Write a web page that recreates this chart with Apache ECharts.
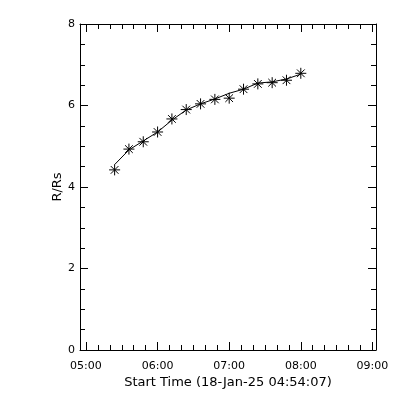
<!DOCTYPE html>
<html>
<head>
<meta charset="utf-8">
<script src="https://cdn.jsdelivr.net/npm/echarts@6/dist/echarts.min.js"></script>
<style>html,body{margin:0;padding:0;background:#fff;}#chart{width:400px;height:400px;}</style>
</head>
<body>
<div id="chart"></div>
<script>
// ---- data ----
const times = ['05:24','05:36','05:48','06:00','06:12','06:24','06:36','06:48','07:00','07:12','07:24','07:36','07:48','08:00'];
const radius = [4.42,4.93,5.11,5.35,5.67,5.90,6.04,6.15,6.18,6.40,6.53,6.56,6.62,6.79];
const fitRadius = [4.55,4.91,5.13,5.35,5.64,5.89,6.04,6.16,6.30,6.40,6.55,6.58,6.65,6.77];
const hourLabels = ['05:00','06:00','07:00','08:00','09:00'];
const xStart = '04:55';
const xEnd = '09:03';
const yTicks = [0,2,4,6,8];
const xTitle = 'Start Time (18-Jan-25 04:54:07)';
const yTitle = 'R/Rs';

function toMin(s){ const p = s.split(':'); return (+p[0])*60 + (+p[1]); }
function fmt(v){ const h = Math.floor(v/60), m = Math.round(v - h*60); return String(h).padStart(2,'0') + ':' + String(m).padStart(2,'0'); }

const hourVals = hourLabels.map(toMin);
const minorVals = [];
hourVals.forEach(h => { for (let k = 1; k < 6; k++) { const v = h + k*10; if (v < toMin(xEnd)) minorVals.push(v); } });

const FONT = 'DejaVu Sans';
const black = '#000';
const gridBox = {left: 80, right: 24, top: 24, bottom: 50, show: false};

function xAx(grid, pos, ticks, len, withLine, withLabel) {
  const a = {
    gridIndex: grid, type: 'value', position: pos,
    min: toMin(xStart), max: toMin(xEnd),
    axisLine: {show: withLine, onZero: false, lineStyle: {color: black, width: 1}},
    axisTick: {show: true, inside: true, length: len, customValues: ticks, lineStyle: {color: black, width: 1}},
    axisLabel: withLabel ? {show: true, customValues: ticks, formatter: v => fmt(v), color: black, fontFamily: FONT, fontSize: 11, margin: 11} : {show: false},
    splitLine: {show: false}
  };
  if (withLabel) {
    a.name = xTitle; a.nameLocation = 'middle'; a.nameGap = 26; a.nameMoveOverlap = false;
    a.nameTextStyle = {color: black, fontFamily: FONT, fontSize: 13};
  }
  return a;
}

function yAx(grid, pos, show, withLabel) {
  const a = {
    gridIndex: grid, type: 'value', position: pos, show: show,
    min: yTicks[0], max: yTicks[yTicks.length-1], interval: yTicks[1]-yTicks[0],
    axisLine: {show: true, onZero: false, lineStyle: {color: black, width: 1}},
    axisTick: {show: true, inside: true, length: 8, lineStyle: {color: black, width: 1}},
    minorTick: {show: true, splitNumber: 4, length: 5, lineStyle: {color: black, width: 1}},
    axisLabel: withLabel ? {show: true, color: black, fontFamily: FONT, fontSize: 11, margin: 5} : {show: false},
    splitLine: {show: false}
  };
  if (withLabel) {
    a.name = yTitle; a.nameLocation = 'middle'; a.nameGap = 16; a.nameMoveOverlap = false;
    a.nameTextStyle = {color: black, fontFamily: FONT, fontSize: 13};
  }
  return a;
}

const asterisk = 'path://M0,5L10,5M5,0L5,10M1.5,1.5L8.5,8.5M8.5,1.5L1.5,8.5';

const option = {
  backgroundColor: '#fff',
  animation: false,
  grid: [Object.assign({}, gridBox), Object.assign({}, gridBox)],
  xAxis: [
    xAx(0, 'bottom', hourVals, 8, true, true),
    xAx(0, 'top', hourVals, 8, true, false),
    xAx(1, 'bottom', minorVals, 5, false, false),
    xAx(1, 'top', minorVals, 5, false, false)
  ],
  yAxis: [
    yAx(0, 'left', true, true),
    yAx(0, 'right', true, false),
    yAx(1, 'left', false, false)
  ],
  series: [
    {
      type: 'line', xAxisIndex: 0, yAxisIndex: 0,
      data: times.map((t, i) => [toMin(t), fitRadius[i]]),
      showSymbol: false, symbol: 'none',
      lineStyle: {color: black, width: 1},
      silent: true, z: 2
    },
    {
      type: 'scatter', xAxisIndex: 0, yAxisIndex: 0,
      data: times.map((t, i) => [toMin(t), radius[i]]),
      symbol: asterisk, symbolSize: 11,
      itemStyle: {color: 'rgba(0,0,0,0)', borderColor: black, borderWidth: 1, opacity: 1},
      silent: true, z: 3
    }
  ]
};

const chart = echarts.init(document.getElementById('chart'), null, {renderer: 'canvas'});
chart.setOption(option);
</script>
</body>
</html>
